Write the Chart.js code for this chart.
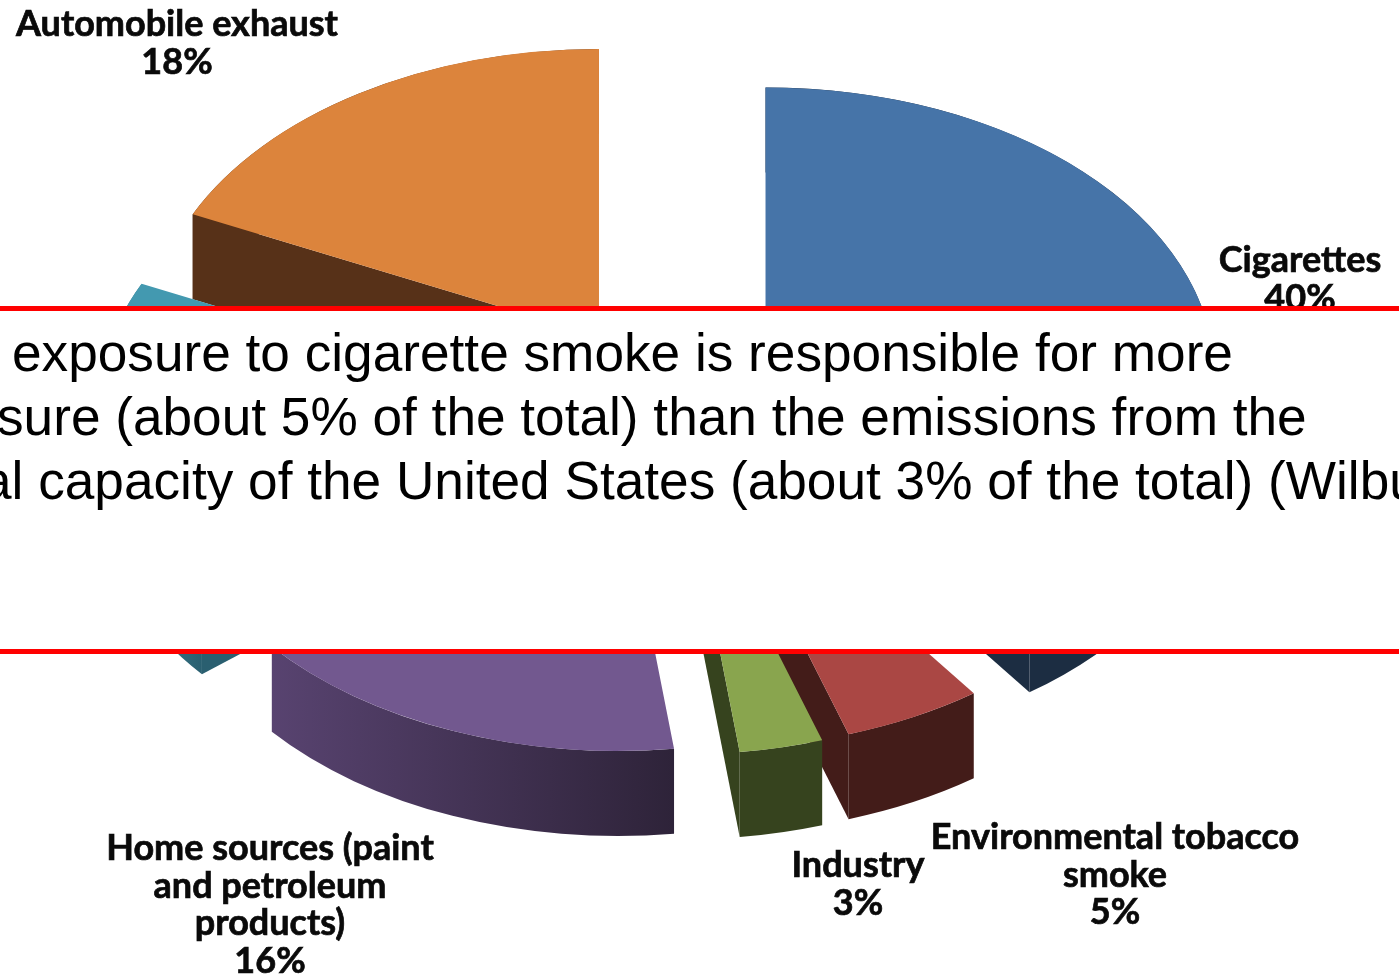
<!DOCTYPE html>
<html>
<head>
<meta charset="utf-8">
<title>Benzene exposure</title>
<script src="https://cdn.jsdelivr.net/npm/chart.js@4/dist/chart.umd.min.js"></script>
<style>
  html, body { margin: 0; padding: 0; background: #fff; }
  #wrap { position: relative; width: 1399px; height: 977px; overflow: hidden; }
  #chart { position: absolute; left: 0; top: 0; }
  #band {
    position: absolute; left: 0; top: 306px; width: 1399px; height: 348px;
    box-sizing: border-box; background: #fff; overflow: hidden;
    border-top: 5px solid #ff0000; border-bottom: 5px solid #ff0000;
    font-family: "Liberation Sans", sans-serif; font-size: 53.2px; color: #000;
  }
  #band div { position: absolute; white-space: pre; line-height: 64px; }
</style>
</head>
<body>
<div id="wrap">
  <canvas id="chart" width="1399" height="977"></canvas>
  <div id="band">
    <div style="left:12px;top:10px">exposure to cigarette smoke is responsible for more</div>
    <div style="left:-3px;top:74px">sure (about 5% of the total) than the emissions from the</div>
    <div style="left:-18px;top:138px">al capacity of the United States (about 3% of the total) (Wilbur</div>
  </div>
</div>
<script>
const categories = ['Cigarettes', 'Environmental tobacco smoke', 'Industry', 'Home sources', 'Other', 'Automobile exhaust'];
const shares     = [40, 5, 3, 16, 18, 18];

const topColors  = ['#4674a8', '#aa4744', '#89a54e', '#72588f', '#4399b0', '#dc843c'];
const wallLight  = ['#1c2d42', '#431c19', '#36431e', '#584370', '#3a7f90', '#573118'];
const wallDark   = ['#1c2d42', '#431c19', '#36431e', '#2e2339', '#2a5f70', '#573118'];

const labelLines = [
  ['Cigarettes', '40%'],
  ['Environmental tobacco', 'smoke', '5%'],
  ['Industry', '3%'],
  ['Home sources (paint', 'and petroleum', 'products)', '16%'],
  [],
  ['Automobile exhaust', '18%'],
];

// label placement: centre x, first baseline
const labelAnchors = [[1300, 272], [1115, 849], [858, 877], [270, 860], null, [177, 36]];
const labelLineHeight = 37.5;

// look of the tilted, exploded pie
const TILT = 0.64;
const DEPTH = 85;
const EXPLODE = 112;

const pie3d = {
  id: 'pie3d',
  // arc offset also resizes the slices, so pull them apart here instead
  afterDatasetsUpdate(chart) {
    chart.getDatasetMeta(0).data.forEach(arc => {
      const mid = (arc.startAngle + arc.endAngle) / 2;
      arc.x += Math.cos(mid) * EXPLODE;
      arc.y += Math.sin(mid) * EXPLODE;
    });
  },
  beforeDatasetsDraw(chart) {
    const ctx = chart.ctx;
    const y0 = (chart.chartArea.top + chart.chartArea.bottom) / 2;
    chart.getDatasetMeta(0).data.forEach((arc, i) => drawWalls(ctx, arc, i, y0));
    ctx.save();
    ctx.translate(0, y0);
    ctx.scale(1, TILT);
    ctx.translate(0, -y0);
  },
  afterDatasetsDraw(chart) {
    chart.ctx.restore();
    drawLabels(chart.ctx);
  },
};

function drawWalls(ctx, arc, i, y0) {
  const r = arc.outerRadius;
  const cx = arc.x;
  const cy = y0 + (arc.y - y0) * TILT;
  const a0 = arc.startAngle, a1 = arc.endAngle;
  const px = a => cx + r * Math.cos(a);
  const py = a => cy + r * TILT * Math.sin(a);

  const grad = ctx.createLinearGradient(Math.min(px(a0), px(a1)), 0, Math.max(px(a0), px(a1)), 0);
  grad.addColorStop(0, wallLight[i]);
  grad.addColorStop(1, wallDark[i]);

  ctx.fillStyle = grad;
  ctx.beginPath();
  ctx.ellipse(cx, cy, r, r * TILT, 0, a0, a1);
  ctx.lineTo(px(a1), py(a1) + DEPTH);
  ctx.ellipse(cx, cy + DEPTH, r, r * TILT, 0, a1, a0, true);
  ctx.closePath();
  ctx.fill();

  // only the radial faces that look towards the viewer
  ctx.fillStyle = wallDark[i];
  [[a0, Math.cos(a0) < 0], [a1, Math.cos(a1) > 0]].forEach(([a, visible]) => {
    if (!visible) return;
    ctx.beginPath();
    ctx.moveTo(cx, cy);
    ctx.lineTo(px(a), py(a));
    ctx.lineTo(px(a), py(a) + DEPTH);
    ctx.lineTo(cx, cy + DEPTH);
    ctx.closePath();
    ctx.fill();
  });
}

function drawLabels(ctx) {
  ctx.save();
  ctx.fillStyle = '#0a0a0a';
  ctx.strokeStyle = '#0a0a0a';
  ctx.lineWidth = 0.7;
  ctx.font = 'bold 36px Lato';
  ctx.textAlign = 'center';
  ctx.textBaseline = 'alphabetic';
  labelLines.forEach((lines, i) => {
    if (!labelAnchors[i]) return;
    const [x, y] = labelAnchors[i];
    lines.forEach((line, n) => {
      ctx.fillText(line, x, y + n * labelLineHeight);
      ctx.strokeText(line, x, y + n * labelLineHeight);
    });
  });
  ctx.restore();
}

new Chart(document.getElementById('chart'), {
  type: 'pie',
  data: {
    labels: categories,
    datasets: [{
      data: shares,
      backgroundColor: topColors,
      borderWidth: 0,
      radius: 449,
      clip: false,
    }],
  },
  options: {
    responsive: false,
    animation: false,
    layout: { padding: { right: 81, bottom: 183 } },
    plugins: { legend: { display: false }, tooltip: { enabled: false } },
  },
  plugins: [pie3d],
});
</script>
</body>
</html>
